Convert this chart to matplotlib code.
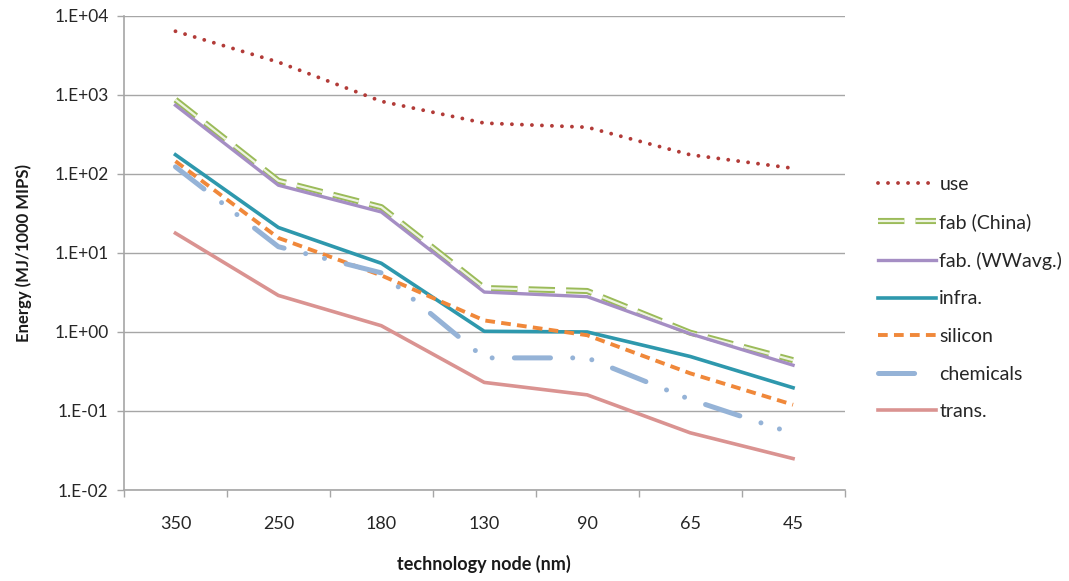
import matplotlib.pyplot as plt
import numpy as np

plt.rcParams['font.family'] = ['Lato', 'DejaVu Sans']
plt.rcParams['lines.scale_dashes'] = False

nodes = ["350", "250", "180", "130", "90", "65", "45"]

use = [6400, 2600, 830, 440, 390, 175, 118]
fab_china = [870, 82, 38, 3.6, 3.3, 0.98, 0.44]
fab_ww = [740, 72, 33, 3.2, 2.8, 0.95, 0.38]
infra = [175, 21, 7.4, 1.02, 1.0, 0.49, 0.197]
silicon = [145, 15.5, 5.2, 1.4, 0.91, 0.30, 0.12]
chemicals = [123, 12, 5.6, 0.47, 0.47, 0.14, 0.052]
trans = [17.8, 2.9, 1.2, 0.23, 0.16, 0.053, 0.025]

x = np.arange(len(nodes))

fig = plt.figure(figsize=(10.69, 5.81), dpi=100)
ax = fig.add_axes([0.116, 0.1566, 0.674, 0.816])

l_use, = ax.plot(x, use, color="#B23B38", lw=2.8, linestyle=(0, (0.01, 7.2)),
                 dash_capstyle="round", solid_capstyle="round")
g_out, = ax.plot(x, fab_china, color="#9BBB59", lw=4.4, linestyle=(0, (19, 8)),
                 dash_capstyle="butt")
g_in, = ax.plot(x, fab_china, color="#EEF4E2", lw=1.6, linestyle=(0, (19, 8)),
                dash_capstyle="butt")
l_ww, = ax.plot(x, fab_ww, color="#A58EC4", lw=2.4)
l_inf, = ax.plot(x, infra, color="#2E98AD", lw=2.6)
l_si, = ax.plot(x, silicon, color="#F0883A", lw=2.8, linestyle=(0, (7, 4.5)),
                dash_capstyle="butt")
l_ch, = ax.plot(x, chemicals, color="#95B3D7", lw=3.6,
                linestyle=(0, (26, 16, 0.01, 14, 0.01, 16)),
                dash_capstyle="round")
l_tr, = ax.plot(x, trans, color="#DA9391", lw=2.6)

ax.set_yscale("log")
ax.set_ylim(1e-2, 1e4)
ax.set_xlim(-0.5, len(nodes) - 0.5)
ax.set_yticks([1e-2, 1e-1, 1e0, 1e1, 1e2, 1e3, 1e4])
ax.set_yticklabels(["1.E-02", "1.E-01", "1.E+00", "1.E+01", "1.E+02", "1.E+03", "1.E+04"])
ax.yaxis.set_minor_locator(plt.NullLocator())
ax.set_xticks(x)
ax.set_xticklabels(nodes)
ax.set_xticks(np.arange(-0.5, len(nodes)), minor=True)
ax.tick_params(axis="x", which="major", length=0, pad=19, labelsize=13, labelcolor="#262626")
ax.tick_params(axis="x", which="minor", length=5, color="#A6A6A6", width=1)
ax.tick_params(axis="y", which="major", length=5, color="#A6A6A6", width=1,
               pad=6, labelsize=12.5, labelcolor="#262626")

ax.grid(axis="y", color="#A6A6A6", lw=1)
ax.set_axisbelow(True)
for s in ["top", "right"]:
    ax.spines[s].set_visible(False)
for s in ["left", "bottom"]:
    ax.spines[s].set_color("#A6A6A6")
    ax.spines[s].set_linewidth(1.2)

ax.set_ylabel("Energy (MJ/1000 MIPS)", fontsize=12, fontweight="bold", labelpad=16,
              color="#1a1a1a")
ax.set_xlabel("technology node (nm)", fontsize=13, fontweight="bold", labelpad=16,
              color="#1a1a1a")

handles = [l_use, (g_out, g_in), l_ww, l_inf, l_si, l_ch, l_tr]
labels = ["use", "fab (China)", "fab. (WWavg.)", "infra.", "silicon", "chemicals", "trans."]
fig.legend(handles, labels, loc="upper left", bbox_to_anchor=(0.805, 0.728),
           frameon=False, fontsize=14, handlelength=3.0, labelspacing=1.06,
           handletextpad=0.15, labelcolor="#262626")

fig.savefig("out.png", dpi=100)
